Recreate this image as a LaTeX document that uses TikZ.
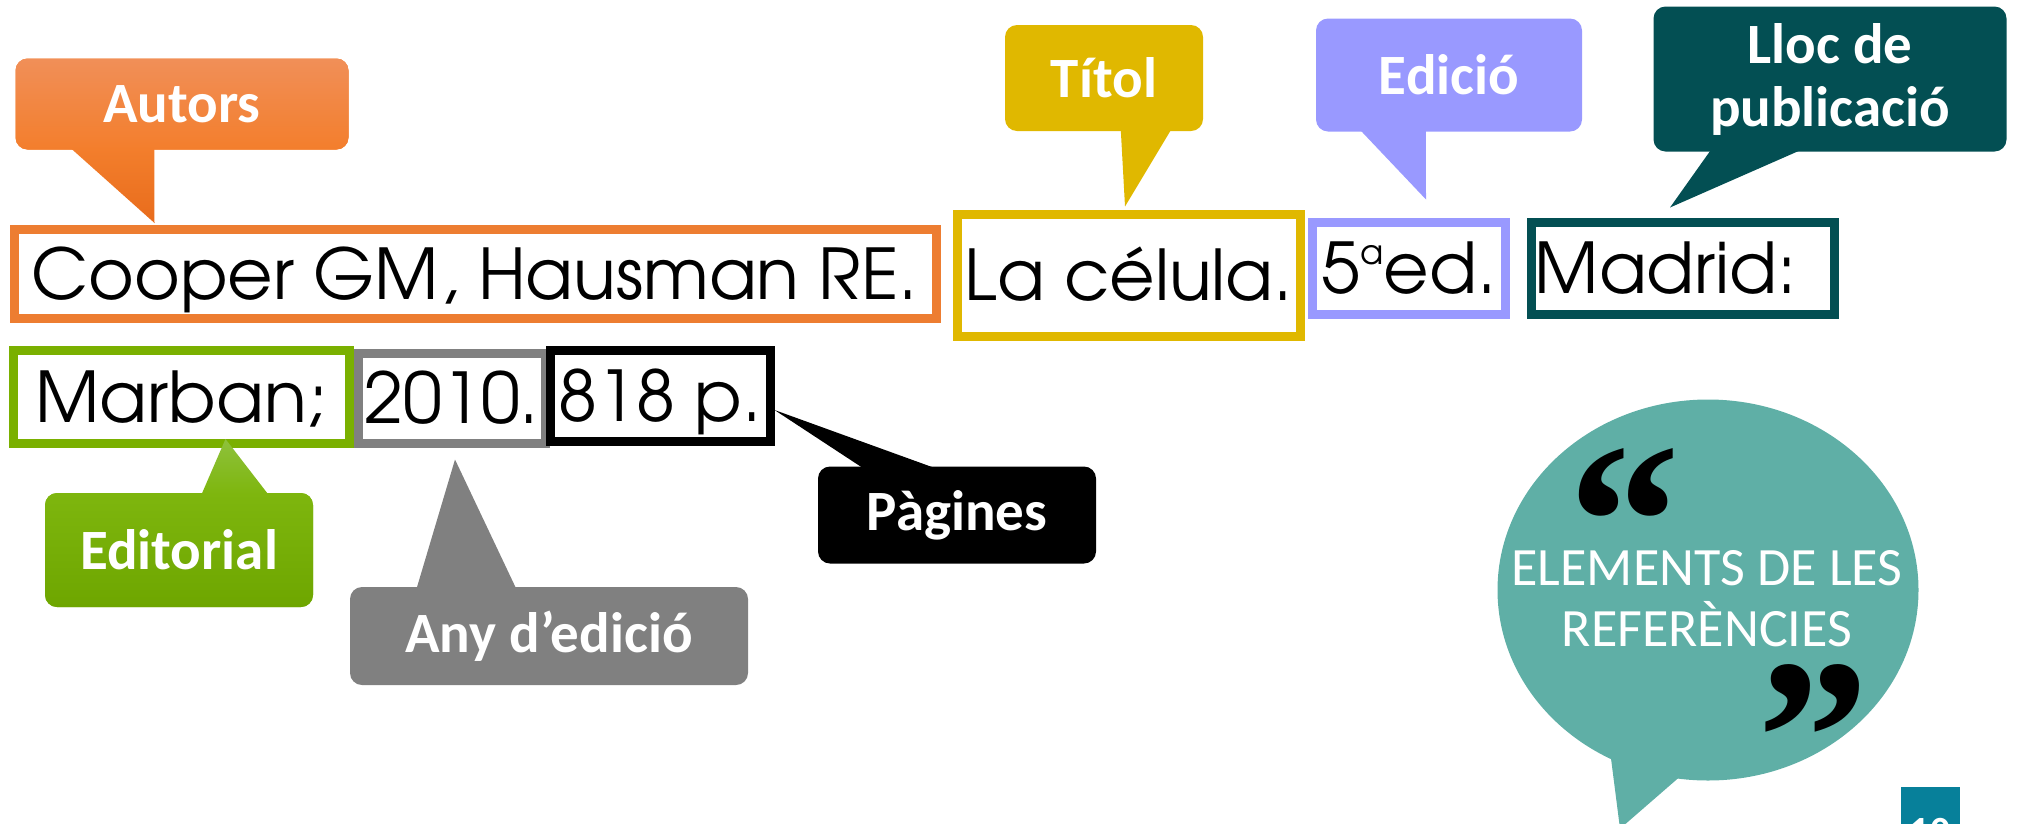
\documentclass[tikz,border=0pt]{standalone}
\usepackage{fontspec}
\setmainfont{Carlito}
\newfontfamily\gothic{TeX Gyre Adventor}
\newfontfamily\quotefont{Liberation Serif}
\usepackage{xcolor}
\usetikzlibrary{positioning,calc,shapes.geometric}

\definecolor{refOrange}{RGB}{237,125,49}
\definecolor{autorsTop}{RGB}{241,143,88}
\definecolor{autorsMid}{RGB}{243,126,44}
\definecolor{autorsBot}{RGB}{232,108,28}
\definecolor{titolGold}{RGB}{224,184,0}
\definecolor{edLav}{RGB}{153,153,255}
\definecolor{llocTeal}{RGB}{3,79,83}
\definecolor{edGreen}{RGB}{122,176,0}
\definecolor{editTop}{RGB}{142,193,60}
\definecolor{editMid}{RGB}{126,182,14}
\definecolor{editBot}{RGB}{110,166,0}
\definecolor{anyGray}{RGB}{128,128,128}
\definecolor{bubbleTeal}{RGB}{95,175,166}
\definecolor{pageTeal}{RGB}{7,128,154}

\newcommand{\ordA}{\raisebox{29pt}{\fontsize{34}{34}\selectfont a}}

\begin{document}
\begin{tikzpicture}[x=1pt,y=-1pt,
  refbox/.style={draw=#1,line width=9pt,fill=white,inner sep=0pt,
    font=\gothic\fontsize{70}{80}\selectfont,text height=58pt,text depth=8pt},
  callout/.style={fill=#1,rounded corners=12pt,inner sep=0pt,align=center,
    text=white,font=\bfseries\fontsize{57}{63}\selectfont}]
  \useasboundingbox (0,0) rectangle (2018,823);

  \foreach \n/\c/\x/\y/\w/\h/\t in {cooper/refOrange/475/274/922/89/{Cooper GM, Hausman RE.},
                                   celula/titolGold/1129/275/343/122/{La célula.},
                                   ed/edLav/1409/268/193/92/{5\ordA ed.},
                                   madrid/llocTeal/1683/268/303/92/{Madrid:\hspace*{34pt}},
                                   year/anyGray/452/398/187/90/{2010.},
                                   marban/edGreen/181/397/336/93/{Marban;},
                                   pages/black/660/396/220/91/{818 p.}}
     \node[refbox=\c,minimum width=\w,minimum height=\h] (\n) at (\x,\y) {\t};

  \node[callout=autorsMid,top color=autorsTop,bottom color=autorsMid,
        minimum width=333,minimum height=91] (autors) at (182,104) {Autors};
  \shade[top color=autorsMid,bottom color=autorsBot]
     ([xshift=56,yshift=1]autors.south west) -- ([xshift=139,yshift=1]autors.south west)
     -- ([xshift=145,yshift=2]cooper.north west) -- cycle;

  \node[callout=editMid,top color=editMid,bottom color=editBot,
        minimum width=268,minimum height=114] (editorial) at (179,550) {Editorial};
  \shade[top color=editTop,bottom color=editMid]
     ([xshift=157,yshift=-1]editorial.north west) -- ([xshift=223,yshift=-1]editorial.north west)
     -- ([xshift=217,yshift=9]marban.south west) -- cycle;

  \foreach \n/\c/\x/\y/\w/\h/\t in {titol/titolGold/1104/78/198/106/{Títol},
                                   edicio/edLav/1449/75/266/113/{Edició},
                                   lloc/llocTeal/1830/79/353/145/{Lloc de\\publicació},
                                   any/anyGray/549/636/398/98/{Any d’edició},
                                   pagines/black/957/515/278/97/{Pàgines}}
     \node[callout=\c,minimum width=\w,minimum height=\h] (\n) at (\x,\y) {\t};

  \fill[titolGold] ([xshift=116,yshift=1]titol.south west) -- ([xshift=166,yshift=1]titol.south west)
     -- ([xshift=172,yshift=3]celula.north west) -- cycle;
  \fill[edLav] ([xshift=45,yshift=1]edicio.south west) -- ([xshift=110,yshift=1]edicio.south west)
     -- ([xshift=118,yshift=18]ed.north west) -- cycle;
  \fill[llocTeal] ([xshift=57,yshift=1]lloc.south west) -- ([xshift=146,yshift=1]lloc.south west)
     -- ([xshift=143,yshift=10]madrid.north west) -- cycle;
  \fill[anyGray] ([xshift=67,yshift=-1]any.north west) -- ([xshift=166,yshift=-1]any.north west)
     -- ([xshift=101,yshift=-12]year.south west) -- cycle;
  \fill[black] ([xshift=44,yshift=-1]pagines.north west) -- ([xshift=115,yshift=-1]pagines.north west)
     -- ([yshift=-14]pages.east) -- cycle;

  \node[ellipse,fill=bubbleTeal,minimum width=421,minimum height=381,inner sep=0pt] (bubble) at (1708,590) {};
  \fill[bubbleTeal] ([xshift=-98,yshift=30]bubble.south) -- ([xshift=-88,yshift=-48]bubble.south)
     -- ([xshift=-27,yshift=5]bubble.south) -- cycle;
  \node[text=white,align=center,inner sep=0pt,font=\fontsize{54}{61}\selectfont] (elements)
     at (1707,599) {ELEMENTS DE LES\\REFERÈNCIES};
  \node[anchor=base west,inner sep=0pt,font=\quotefont\bfseries\fontsize{224}{224}\selectfont] (oq) at (1568,597) {“};
  \node[anchor=base west,inner sep=0pt,font=\quotefont\bfseries\fontsize{224}{224}\selectfont] (cq) at (1757,813) {”};

  \node[fill=pageTeal,text=white,font=\bfseries\fontsize{40}{40}\selectfont,anchor=north,
        minimum width=59,inner xsep=0pt,inner ysep=31pt] (pagenum) at (1930,787) {10};
\end{tikzpicture}
\end{document}
